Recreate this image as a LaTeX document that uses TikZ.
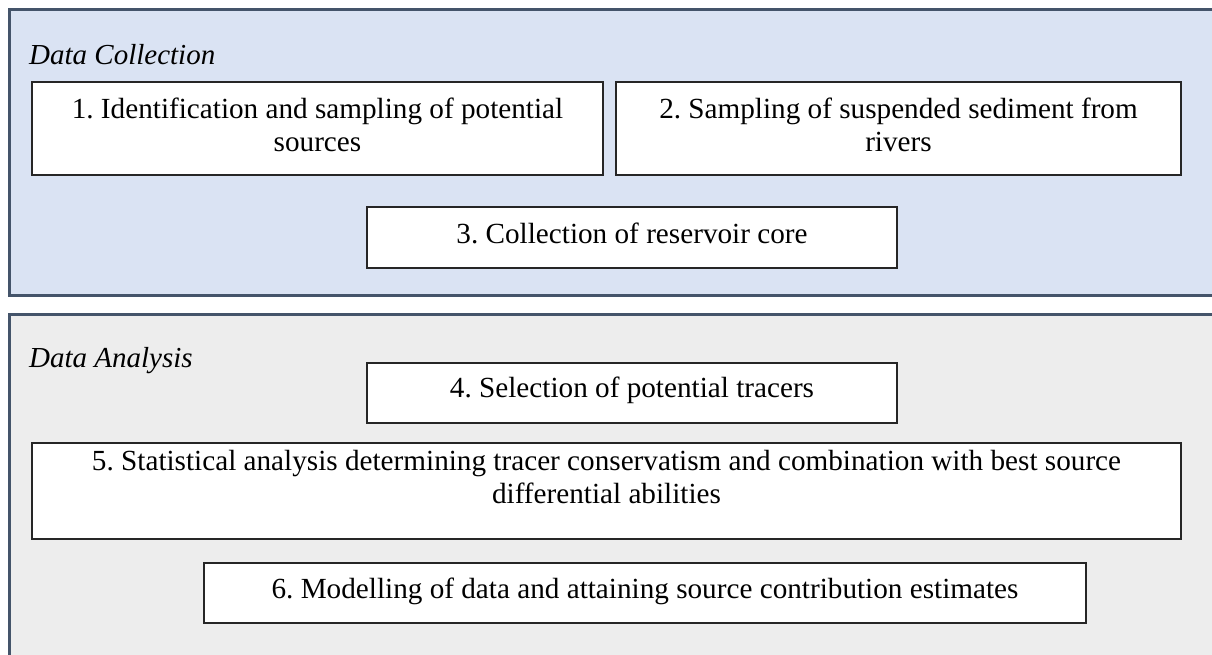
\documentclass[tikz,border=0pt]{standalone}
\usepackage{fontspec}
\setmainfont{Liberation Serif}
\frenchspacing
\definecolor{panelline}{RGB}{68,84,106}
\definecolor{collectfill}{RGB}{218,227,243}
\definecolor{analysisfill}{RGB}{237,237,237}
\begin{document}
\begin{tikzpicture}[x=1pt,y=-1pt,
  panel/.style={draw=panelline, line width=2.6pt, rectangle, inner sep=0pt, anchor=north west},
  stepbox/.style={draw=black!85, line width=1.3pt, fill=white, rectangle, inner sep=0pt},
  steptext/.style={align=center, inner sep=0pt, font=\fontsize{29.2}{33}\selectfont},
  heading/.style={anchor=west, inner sep=0pt, font=\fontsize{29}{33}\selectfont\itshape}]
\useasboundingbox (0,0) rectangle (1212,654);

% group panels (right and lower edges run off the page)
\node[panel, fill=collectfill, minimum width=1230pt, minimum height=286pt] (collect) at (8,8) {};
\node[panel, fill=analysisfill, minimum width=1230pt, minimum height=380pt] (analysis) at (8,313) {};

\node[heading] (hcollect) at (29,55) {Data Collection};
\node[heading] (hanalysis) at (29,361) {Data Analysis};

% data collection steps
\node[stepbox, minimum width=571pt, minimum height=93pt] (b1) at (317.5,128.5) {};
\node[steptext] (t1) at (317.5,124.5) {1. Identification and sampling of potential\\sources};
\node[stepbox, minimum width=565pt, minimum height=93pt] (b2) at (898.5,128.5) {};
\node[steptext] (t2) at (898.5,124.5) {2. Sampling of suspended sediment from\\rivers};
\node[stepbox, minimum width=530pt, minimum height=61pt] (b3) at (632,237.5) {};
\node[steptext] (t3) at (632,233) {3. Collection of reservoir core};

% data analysis steps
\node[stepbox, minimum width=530pt, minimum height=60pt] (b4) at (632,393) {};
\node[steptext] (t4) at (632,390) {4. Selection of potential tracers};
\node[stepbox, minimum width=1149pt, minimum height=96pt] (b5) at (606.5,491) {};
\node[steptext] (t5) at (606.5,477) {5. Statistical analysis determining tracer conservatism and combination with best source\\differential abilities};
\node[stepbox, minimum width=882pt, minimum height=60pt] (b6) at (645,593) {};
\node[steptext] (t6) at (645,591) {6. Modelling of data and attaining source contribution estimates};
\end{tikzpicture}
\end{document}
